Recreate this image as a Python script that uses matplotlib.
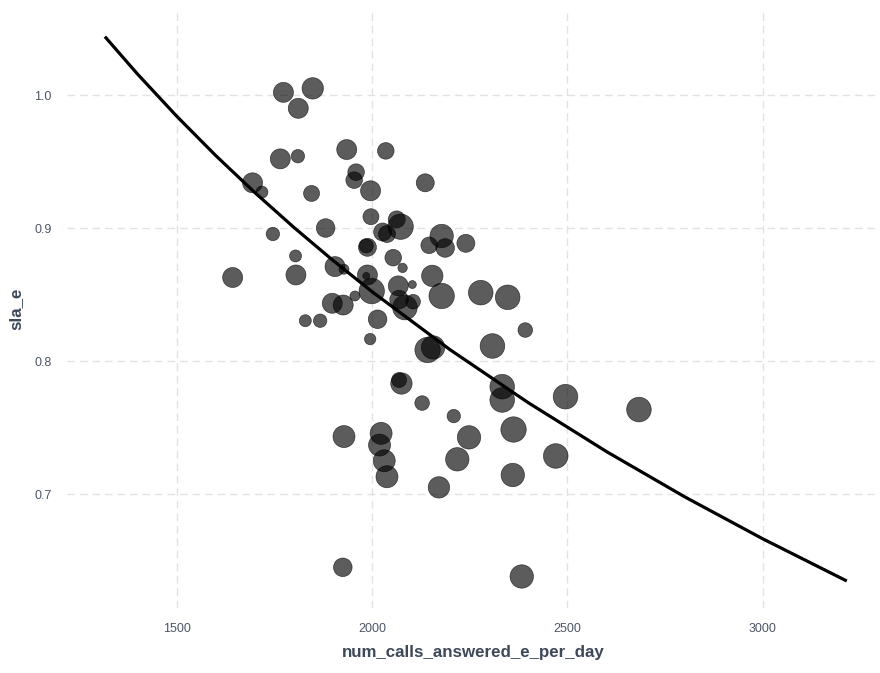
import matplotlib
matplotlib.use("Agg")
import matplotlib.pyplot as plt
import numpy as np

# ---- data ----
calls = [1773, 1848, 1811, 1935, 2035, 1765, 1810, 1694, 1718, 1959,
         1954, 1996, 2136, 1845, 1997, 2063, 2073, 2027, 2038, 1881,
         1746, 2178, 2146, 2187, 2240, 1988, 1985, 2054, 2078, 1804,
         1905, 1928, 1643, 1805, 1988, 1985, 2154, 1999, 2067, 2069,
         2103, 2084, 2105, 2178, 1956, 1898, 1926, 2278, 2347, 2014,
         1829, 1867, 2392, 1995, 2308, 2142, 2156, 2333, 2333, 2495,
         2683, 2069, 2075, 2128, 2209, 1928, 2023, 2019, 2031, 2038,
         2171, 2218, 2248, 2362, 2360, 2470, 1925, 2383]
sla = [1.002, 1.005, 0.990, 0.959, 0.958, 0.952, 0.954, 0.934, 0.927, 0.942,
       0.936, 0.928, 0.934, 0.926, 0.9085, 0.9065, 0.901, 0.897, 0.8955, 0.900,
       0.8955, 0.894, 0.887, 0.885, 0.8885, 0.8855, 0.8865, 0.8777, 0.870, 0.879,
       0.871, 0.869, 0.8628, 0.8647, 0.8647, 0.864, 0.864, 0.8526, 0.8565, 0.8462,
       0.8575, 0.8402, 0.8446, 0.8489, 0.8489, 0.8434, 0.8421, 0.8514, 0.8479, 0.8314,
       0.8303, 0.8303, 0.8233, 0.8165, 0.8113, 0.8083, 0.8102, 0.7807, 0.7707, 0.7732,
       0.7635, 0.7857, 0.7831, 0.7684, 0.7586, 0.7432, 0.7456, 0.7368, 0.7250, 0.7130,
       0.7050, 0.7261, 0.7426, 0.7485, 0.7143, 0.7286, 0.6449, 0.6380]
# size variable (relative marker radius)
weight = [10, 10.7, 10, 10, 8.3, 10, 6.7, 10, 6, 8.3,
          8.3, 10, 9, 8, 8, 8.5, 12.7, 9, 8.5, 9.3,
          6.7, 11.7, 8.3, 9.3, 9, 9, 7, 8.3, 4.7, 6,
          10, 5, 10, 10, 10, 3.5, 10.7, 12.7, 10, 9.3,
          4, 12.3, 7.3, 12.7, 5, 10, 10, 12.3, 12.3, 9.3,
          6, 6.7, 7.3, 5.7, 12.3, 12.7, 11.7, 12.3, 12.3, 12.3,
          12.3, 7.5, 10.7, 7.3, 6.7, 11, 11, 11, 11, 11,
          10.7, 11.7, 11.7, 12.7, 11.7, 12.3, 9.3, 11.7]

# fitted curve, read along its length
curve_x = [1316, 1400, 1500, 1600, 1700, 1800, 1900, 2000, 2200, 2400,
           2600, 2800, 3000, 3215]
curve_y = [1.0439, 1.0156, 0.9840, 0.9544, 0.9266, 0.9004, 0.8756, 0.8521, 0.8084, 0.7686,
           0.7319, 0.6979, 0.6663, 0.6346]

xticks = [1500, 2000, 2500, 3000]
yticks = [0.7, 0.8, 0.9, 1.0]
xlabel = "num_calls_answered_e_per_day"
ylabel = "sla_e"

# ---- drawing ----
plt.rcParams['font.family'] = ['Liberation Sans', 'DejaVu Sans']
fig = plt.figure(figsize=(8.8, 6.73), dpi=100)
ax = fig.add_axes([67/880, 1-608/673, (880-67)/880, (608-9.5)/673])

w = np.array(weight)
sizes = (1.44 * w) ** 2
ax.scatter(calls, sla, s=sizes, color='black', alpha=0.64, linewidths=0.5,
           edgecolors='black', zorder=3)
ax.plot(curve_x, curve_y, color='black', linewidth=2.3, zorder=4,
        solid_capstyle='butt', solid_joinstyle='round')

ax.set_xlim(1219, 3300)
ax.set_ylim(0.6143, 1.0643)
ax.set_xticks(xticks)
ax.set_yticks(yticks)
ax.set_yticklabels([f"{v:.1f}" for v in yticks])

for s in ax.spines.values():
    s.set_visible(False)
grid_kw = dict(color='#e2e2e2', linewidth=1.0, linestyle=(0, (5.5, 3.5)))
ax.grid(True, **grid_kw)
ax.set_axisbelow(True)
ax.tick_params(axis='both', length=0, labelsize=9, labelcolor='#4d5566')
ax.tick_params(axis='x', pad=11)
ax.tick_params(axis='y', pad=11)

ax.set_xlabel(xlabel, fontsize=12.2, fontweight='bold', color='#3d4859', labelpad=7)
ax.set_ylabel(ylabel, fontsize=12.2, fontweight='bold', color='#3d4859', labelpad=8)

fig.savefig("out.png", dpi=100)
